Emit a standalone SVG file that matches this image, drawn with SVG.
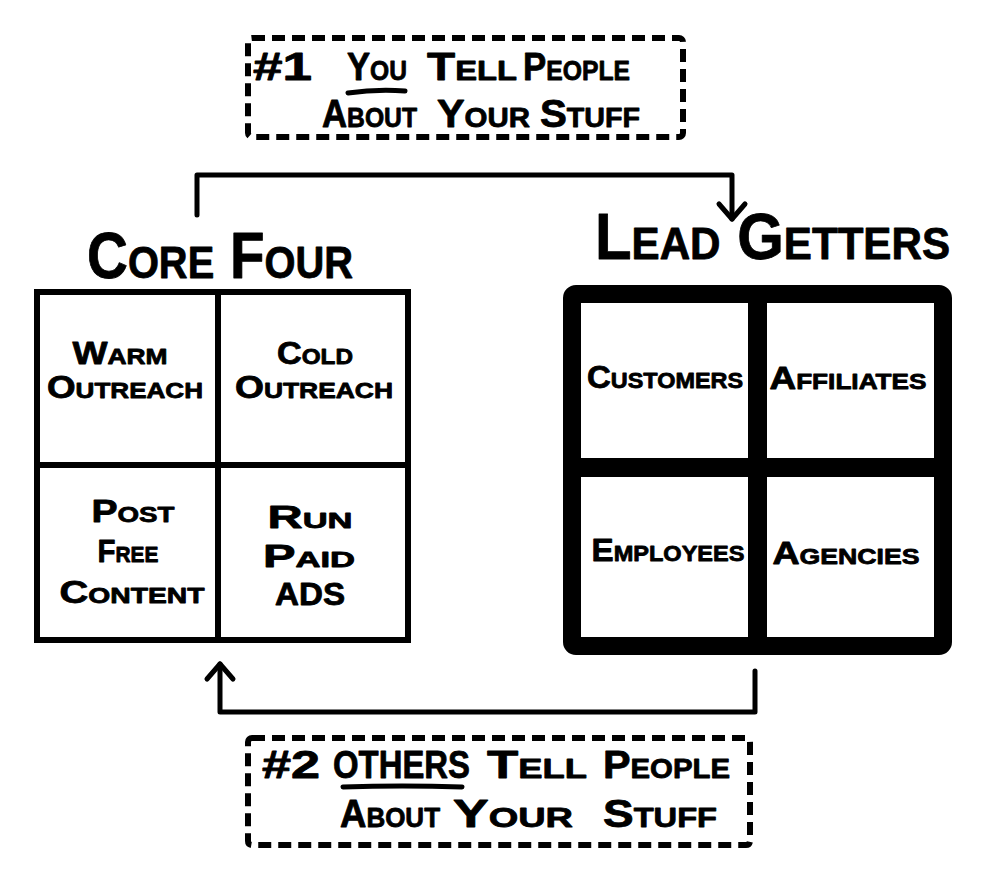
<svg xmlns="http://www.w3.org/2000/svg" width="982" height="880" viewBox="0 0 982 880">
<defs>
<style>
.t{font-family:"Liberation Sans",Arial,sans-serif;font-weight:bold;font-variant:small-caps;fill:#000;stroke:#000;stroke-width:0.8;stroke-linejoin:round}
.title{font-size:64px}
.cell{font-size:31px;text-anchor:middle}
.note{font-size:38px}
.dash{fill:none;stroke:#000;stroke-width:6;stroke-dasharray:13 7}
.conn{fill:none;stroke:#000;stroke-width:5;stroke-linecap:round;stroke-linejoin:round}
.ul{fill:none;stroke:#000;stroke-width:5;stroke-linecap:round}
</style>
<marker id="arr" markerUnits="userSpaceOnUse" markerWidth="40" markerHeight="40" viewBox="-20 -20 40 40" refX="0" refY="0" orient="auto">
<path d="M-15,-13 L0,0 L-15,13" fill="none" stroke="#000" stroke-width="5" stroke-linecap="round" stroke-linejoin="round"/>
</marker>
</defs>
<rect width="982" height="880" fill="#fff"/>

<g id="note1">
<rect class="dash" x="248" y="38" width="435" height="99" rx="4"/>
<text class="t note" x="253" y="80" textLength="59" lengthAdjust="spacingAndGlyphs">#1</text>
<text class="t note" x="347" y="80" textLength="60" lengthAdjust="spacingAndGlyphs">You</text>
<text class="t note" x="427" y="80" textLength="90" lengthAdjust="spacingAndGlyphs">Tell</text>
<text class="t note" x="523" y="80" textLength="107" lengthAdjust="spacingAndGlyphs">People</text>
<path class="ul" d="M348,93 Q376,89 405,91"/>
<text class="t note" x="322" y="127" textLength="95" lengthAdjust="spacingAndGlyphs">About</text>
<text class="t note" x="437" y="127" textLength="93" lengthAdjust="spacingAndGlyphs">Your</text>
<text class="t note" x="540" y="127" textLength="100" lengthAdjust="spacingAndGlyphs">Stuff</text>
</g>

<g id="core-four">
<text class="t title" x="87" y="278" textLength="266" lengthAdjust="spacingAndGlyphs">Core Four</text>
<rect x="37" y="292" width="371" height="348" fill="none" stroke="#000" stroke-width="6"/>
<line x1="218" y1="292" x2="218" y2="640" stroke="#000" stroke-width="6"/>
<line x1="37" y1="465" x2="408" y2="465" stroke="#000" stroke-width="6"/>
<g id="warm-outreach">
<text class="t cell" x="120" y="364" textLength="95" lengthAdjust="spacingAndGlyphs">Warm</text>
<text class="t cell" x="125" y="398" textLength="156" lengthAdjust="spacingAndGlyphs">Outreach</text>
</g>
<g id="cold-outreach">
<text class="t cell" x="315" y="364" textLength="76" lengthAdjust="spacingAndGlyphs">Cold</text>
<text class="t cell" x="314" y="398" textLength="158" lengthAdjust="spacingAndGlyphs">Outreach</text>
</g>
<g id="post-free-content">
<text class="t cell" x="133" y="522" textLength="83" lengthAdjust="spacingAndGlyphs">Post</text>
<text class="t cell" x="128" y="562" textLength="61" lengthAdjust="spacingAndGlyphs">Free</text>
<text class="t cell" x="132" y="603" textLength="145" lengthAdjust="spacingAndGlyphs">Content</text>
</g>
<g id="run-paid-ads">
<text class="t cell" x="310" y="528" textLength="85" lengthAdjust="spacingAndGlyphs">Run</text>
<text class="t cell" x="309" y="567" textLength="92" lengthAdjust="spacingAndGlyphs">Paid</text>
<text class="t cell" x="310" y="605" textLength="70" lengthAdjust="spacingAndGlyphs">ADS</text>
</g>
</g>

<g id="lead-getters">
<text class="t title" x="595" y="259" textLength="355" lengthAdjust="spacingAndGlyphs">Lead Getters</text>
<rect x="572" y="294" width="371" height="352" rx="4" fill="none" stroke="#000" stroke-width="18"/>
<line x1="757.5" y1="294" x2="757.5" y2="646" stroke="#000" stroke-width="19"/>
<line x1="572" y1="467.5" x2="943" y2="467.5" stroke="#000" stroke-width="19"/>
<g id="customers"><text class="t cell" x="665" y="388" textLength="156" lengthAdjust="spacingAndGlyphs">Customers</text></g>
<g id="affiliates"><text class="t cell" x="848" y="389" textLength="157" lengthAdjust="spacingAndGlyphs">Affiliates</text></g>
<g id="employees"><text class="t cell" x="668" y="561" textLength="153" lengthAdjust="spacingAndGlyphs">Employees</text></g>
<g id="agencies"><text class="t cell" x="846" y="564" textLength="147" lengthAdjust="spacingAndGlyphs">Agencies</text></g>
</g>

<g id="note2">
<rect class="dash" x="248" y="738" width="502" height="107" rx="4"/>
<text class="t note" x="262" y="778" textLength="58" lengthAdjust="spacingAndGlyphs">#2</text>
<text class="t note" x="333" y="778" textLength="137" lengthAdjust="spacingAndGlyphs">OTHERS</text>
<text class="t note" x="487" y="778" textLength="100" lengthAdjust="spacingAndGlyphs">Tell</text>
<text class="t note" x="603" y="778" textLength="127" lengthAdjust="spacingAndGlyphs">People</text>
<path class="ul" d="M343,787 Q402,785 462,787"/>
<text class="t note" x="340" y="827" textLength="100" lengthAdjust="spacingAndGlyphs">About</text>
<text class="t note" x="453" y="827" textLength="120" lengthAdjust="spacingAndGlyphs">Your</text>
<text class="t note" x="603" y="827" textLength="114" lengthAdjust="spacingAndGlyphs">Stuff</text>
</g>

<g id="connectors">
<path class="conn" d="M197,215 V175 H732 V219" marker-end="url(#arr)"/>
<path class="conn" d="M755,671 V712 H220 V664" marker-end="url(#arr)"/>
</g>
</svg>
